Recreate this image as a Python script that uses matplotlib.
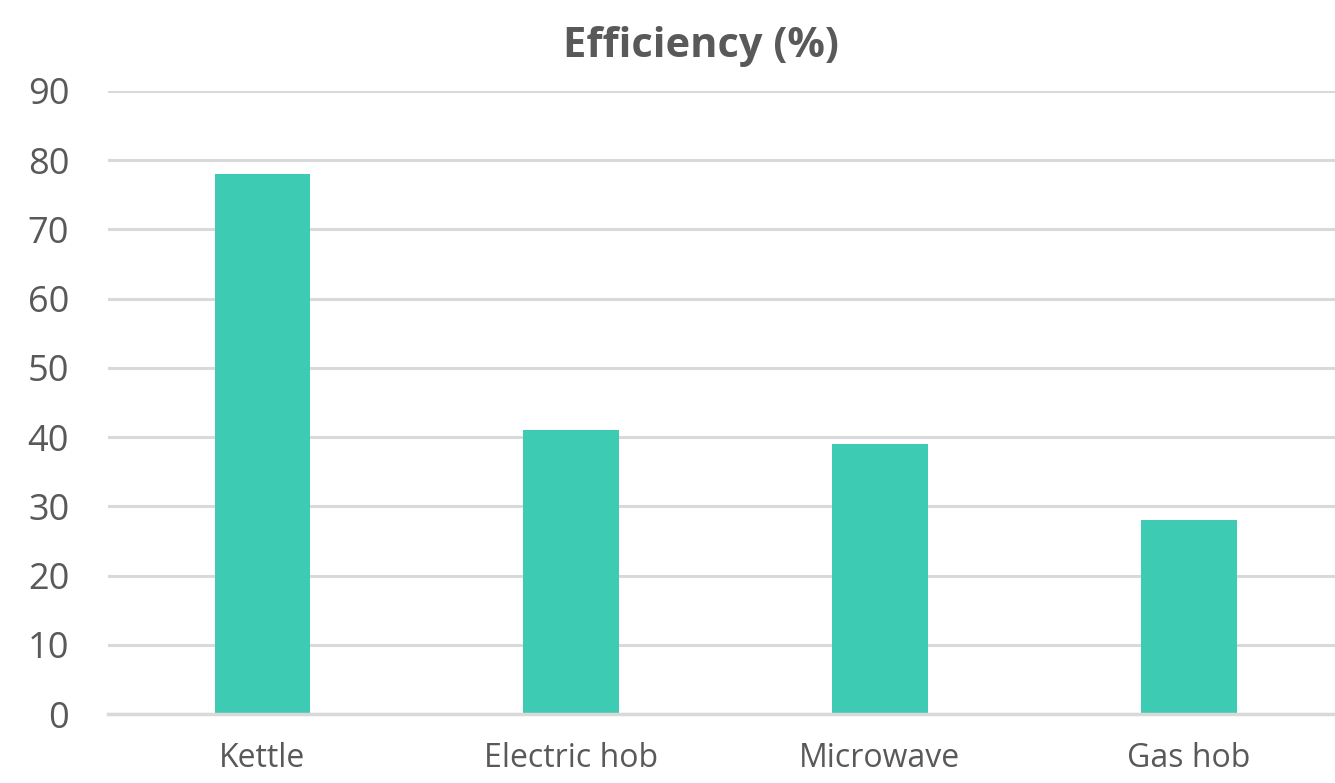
import matplotlib.pyplot as plt

categories = ['Kettle', 'Electric hob', 'Microwave', 'Gas hob']
efficiency = [78, 41, 39, 28]
y_ticks = [0, 10, 20, 30, 40, 50, 60, 70, 80, 90]

plt.rcParams['font.family'] = ['Open Sans', 'DejaVu Sans']

fig = plt.figure(figsize=(13.35, 7.83), dpi=100)
ax = fig.add_axes([0.081, 0.088, 0.925, 0.796])

x = range(len(categories))
ax.bar(x, efficiency, width=0.31, color='#3ecbb4', zorder=3)

ax.set_xlim(-0.5, 3.5)
ax.set_ylim(0, 90)
ax.set_yticks(y_ticks)
ax.set_xticks(list(x))
ax.set_xticklabels(categories)

ax.grid(axis='y', color='#d9d9d9', linewidth=2.2, zorder=0)
for side in ['top', 'right', 'left']:
    ax.spines[side].set_visible(False)
ax.spines['bottom'].set_color('#d9d9d9')
ax.spines['bottom'].set_linewidth(2.5)
ax.spines['bottom'].set_zorder(4)

ax.tick_params(axis='both', length=0, colors='#595959')
ax.tick_params(axis='y', pad=28, labelsize=26)
ax.tick_params(axis='x', pad=20, labelsize=23)

fig.text(0.525, 0.94, 'Efficiency (%)', ha='center', va='center',
         fontsize=30, fontweight='bold', color='#595959')

fig.savefig('out.png', dpi=100)
